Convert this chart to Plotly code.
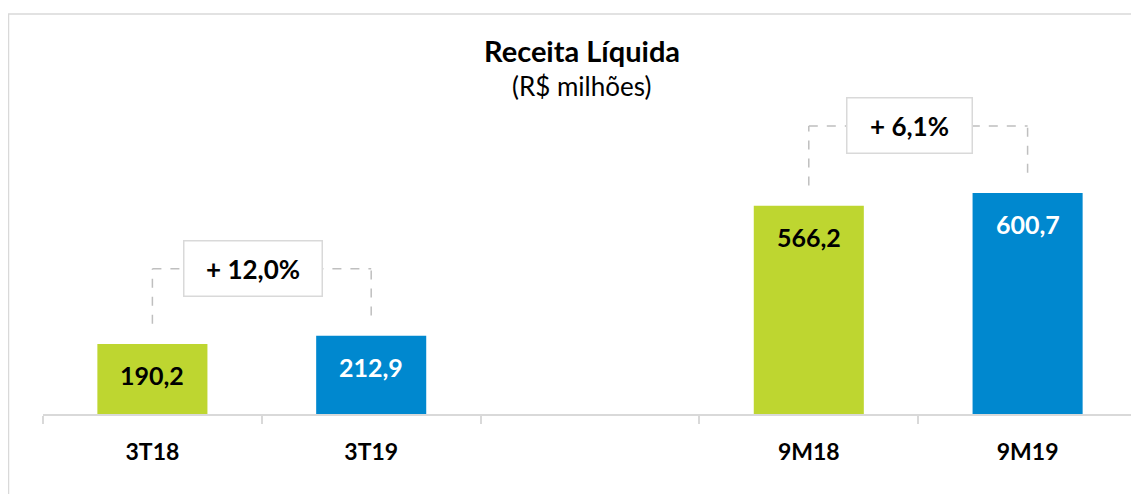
import plotly.graph_objects as go

# ---- data ----
categories = ["3T18", "3T19", " ", "9M18", "9M19"]
values = [190.2, 212.9, None, 566.2, 600.7]
value_labels = ["190,2", "212,9", "", "566,2", "600,7"]
bar_colors = ["#BED630", "#0088CF", "#FFFFFF", "#BED630", "#0088CF"]
label_colors = ["#000000", "#FFFFFF", "#000000", "#000000", "#FFFFFF"]
growth_pairs = [(0, 1), (3, 4)]
growth_labels = ["+ 12,0%", "+ 6,1%"]
title_text = "Receita Líquida"
subtitle_text = "(R$ milhões)"

FONT = "Lato"
GRID = "#D9D9D9"
DASH = "#BFBFBF"

# page body has an 8px margin; layout is sized so the screen matches
OFF = 8
W, H = 1139 - OFF, 494 - OFF
ML, MR, MT, MB = 43 - OFF, 2, 30 - OFF, 80
plot_w = W - ML - MR
plot_h = H - MT - MB
px_per_unit = 0.368
y_max = plot_h / px_per_unit

fig = go.Figure()
fig.add_trace(go.Bar(
    x=categories, y=values,
    marker=dict(color=bar_colors, line=dict(width=0)),
    hoverinfo="skip", showlegend=False,
))

annotations = []
shapes = []

# value labels inside the bars, near the top
for cat, v, lab, col in zip(categories, values, value_labels, label_colors):
    if v is None:
        continue
    annotations.append(dict(
        x=cat, y=v, xref="x", yref="y", text=f"<b>{lab}</b>",
        showarrow=False, yanchor="middle", yshift=-31,
        font=dict(family=FONT, size=25, color=col),
    ))

# growth brackets
gap_units = 55
rise_units = 182
for (i, j), g in zip(growth_pairs, growth_labels):
    vi, vj = values[i], values[j]
    level = max(vi, vj) + rise_units
    line = dict(color=DASH, width=1.5, dash="dash")
    shapes.append(dict(type="line", xref="x", yref="y",
                       x0=categories[i], x1=categories[i],
                       y0=vi + gap_units, y1=level, line=line))
    shapes.append(dict(type="line", xref="x", yref="y",
                       x0=categories[j], x1=categories[j],
                       y0=vj + gap_units, y1=level, line=line))
    shapes.append(dict(type="line", xref="x", yref="y",
                       x0=categories[i], x1=categories[j],
                       y0=level, y1=level, line=line))
    annotations.append(dict(
        x=(i + j) / 2, y=level, xref="x", yref="y",
        text=f"<b>{g}</b>", showarrow=False,
        xanchor="center", yanchor="middle", xshift=-9,
        width=13 * len(g) + 44, height=52, borderpad=1,
        bgcolor="#FFFFFF", bordercolor=GRID, borderwidth=1.5,
        font=dict(family=FONT, size=26, color="#000000"),
    ))

# titles (positions given in screen pixels)
def px_to_paper_x(px):
    return (px - OFF - ML) / plot_w

def px_to_paper_y(py):
    return (H - MB - (py - OFF)) / plot_h

annotations.append(dict(
    x=px_to_paper_x(582), y=px_to_paper_y(50), xref="paper", yref="paper",
    text=f"<b>{title_text}</b>", showarrow=False,
    xanchor="center", yanchor="middle",
    font=dict(family=FONT, size=29, color="#000000"),
))
annotations.append(dict(
    x=px_to_paper_x(581), y=px_to_paper_y(86), xref="paper", yref="paper",
    text=subtitle_text, showarrow=False,
    xanchor="center", yanchor="middle",
    font=dict(family=FONT, size=26, color="#000000"),
))

# outer border
shapes.append(dict(
    type="rect", xref="paper", yref="paper",
    x0=px_to_paper_x(8.5), x1=px_to_paper_x(1139.5),
    y0=px_to_paper_y(520), y1=px_to_paper_y(14),
    line=dict(color=GRID, width=1.5), fillcolor="rgba(0,0,0,0)", layer="below",
))

fig.update_layout(
    width=W, height=H,
    margin=dict(l=ML, r=MR, t=MT, b=MB),
    paper_bgcolor="#FFFFFF", plot_bgcolor="#FFFFFF",
    bargap=0.497,
    showlegend=False,
    annotations=annotations,
    shapes=shapes,
    xaxis=dict(
        type="category", categoryorder="array", categoryarray=categories,
        showline=True, linecolor=GRID, linewidth=1.5,
        ticks="outside", tickson="boundaries", ticklen=8,
        tickcolor=GRID, tickwidth=1.5,
        showgrid=False, zeroline=False,
        tickfont=dict(family=FONT, size=23, color="#000000"),
        ticklabelstandoff=17,
        fixedrange=True,
    ),
    yaxis=dict(range=[0, y_max], visible=False, fixedrange=True),
)
fig.update_xaxes(ticktext=[f"<b>{c}</b>" for c in categories], tickvals=categories)

fig.write_html("out.html", config={"displayModeBar": False})
